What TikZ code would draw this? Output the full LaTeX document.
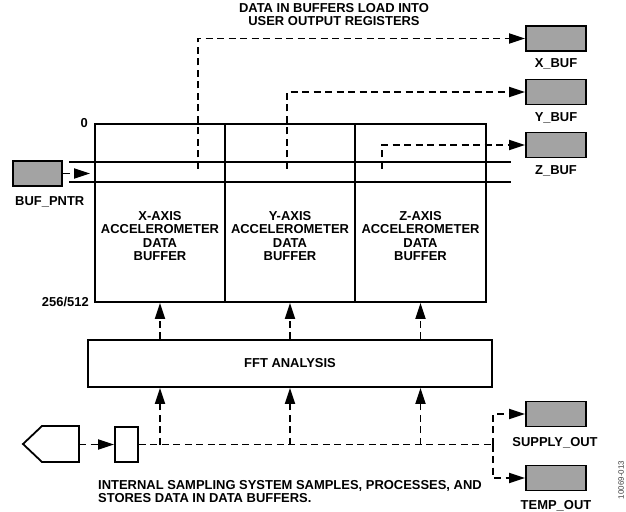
\documentclass[tikz,border=0pt]{standalone}
\usepackage{fontspec}
\setmainfont{Liberation Sans}
\usetikzlibrary{arrows.meta,calc}
\definecolor{regfill}{RGB}{163,163,163}
\begin{document}
\begin{tikzpicture}[x=1bp,y=-1bp,
  lbl/.style={font=\bfseries\fontsize{13}{13.3}\selectfont, inner sep=0pt, align=center},
  reg/.style={draw, line width=1.8bp, fill=regfill, minimum width=60bp, minimum height=25bp, inner sep=0pt},
  buf/.style={draw, line width=1.8bp, minimum height=178bp, inner sep=0pt},
  dsh/.style={line width=1.8bp, dash pattern=on 7bp off 4.5bp},
  tip/.style={-{Triangle[length=16bp,width=10bp]}},
  rail/.style={line width=1.8bp}
]
\useasboundingbox (0,0) rectangle (626,512);

% title
\node[lbl,anchor=north] (title) at (334,3.5) {DATA IN BUFFERS LOAD INTO\\USER OUTPUT REGISTERS};

% output registers
\node[reg] (xbuf) at (556,38.5) {};
\node[lbl,anchor=base] (xbufl) at (556,67.7) {X\_BUF};
\node[reg] (ybuf) at (556,92) {};
\node[lbl,anchor=base] (ybufl) at (556,121.7) {Y\_BUF};
\node[reg] (zbuf) at (556,145) {};
\node[lbl,anchor=base] (zbufl) at (556,174.7) {Z\_BUF};

% buffers
\node[buf, minimum width=130bp] (bx) at (160,213) {};
\node[buf, minimum width=130bp] (by) at (290,213) {};
\node[buf, minimum width=131bp] (bz) at (420.5,213) {};
\node[lbl,anchor=north] (bxt) at (160,211.3) {X-AXIS\\ACCELEROMETER\\DATA\\BUFFER};
\node[lbl,anchor=north] (byt) at (290,211.3) {Y-AXIS\\ACCELEROMETER\\DATA\\BUFFER};
\node[lbl,anchor=north] (bzt) at (420.5,211.3) {Z-AXIS\\ACCELEROMETER\\DATA\\BUFFER};
\node[lbl,anchor=east] (zero) at (88,123) {0};
\node[lbl,anchor=base east] (len) at (89,306.7) {256/512};

% rails
\draw[rail] (69,162) -- (511,162);
\draw[rail] (69,182) -- (511,182);

% buffer pointer
\node[reg, minimum width=49bp] (bp) at (37.5,173.5) {};
\node[lbl,anchor=base west] (bpl) at (15,205.7) {BUF\_PNTR};
\coordinate (bptip) at (90,173.5);
\draw[dsh,tip] (bp.east) -- (bptip);

% buffer to registers
\coordinate (sx) at (198,169);
\coordinate (sy) at (287,169);
\coordinate (sz) at (382,169);
\draw[dsh,tip] (sx) |- (xbuf.west);
\draw[dsh,tip] (sy) |- (ybuf.west);
\draw[dsh,tip] (sz) |- (zbuf.west);

% FFT
\node[draw, line width=1.8bp, minimum width=404bp, minimum height=47bp, inner sep=0pt,
      font=\bfseries\fontsize{13}{13}\selectfont] (fft) at (290,363.5) {FFT ANALYSIS};
\draw[dsh,tip] (fft.north -| bx.south) -- (bx.south);
\draw[dsh,tip] (fft.north -| by.south) -- (by.south);
\draw[dsh,tip] (fft.north -| bz.south) -- (bz.south);

% sensor and sampling
\draw[line width=1.8bp] (23,444) -- (42,426) -- (79,426) -- (79,462) -- (42,462) -- cycle;
\coordinate (sens) at (79,444.5);
\node[draw, line width=1.8bp, minimum width=23bp, minimum height=35bp, inner sep=0pt] (sm) at (126.5,444.5) {};
\draw[dsh,tip] (sens) -- (sm.west);
\coordinate (j) at (493,444.5);
\draw[dsh] (sm.east) -- (j);
\draw[dsh,tip] (j -| bx.south) -- (fft.south -| bx.south);
\draw[dsh,tip] (j -| by.south) -- (fft.south -| by.south);
\draw[dsh,tip] (j -| bz.south) -- (fft.south -| bz.south);

% supply / temp
\node[reg] (sup) at (556,414) {};
\node[lbl,anchor=base] (supl) at (555,446.7) {SUPPLY\_OUT};
\node[reg] (tmp) at (556,478) {};
\node[lbl,anchor=base] (tmpl) at (556,509.7) {TEMP\_OUT};
\draw[dsh,tip] (j) |- (sup.west);
\draw[dsh,tip] (j) |- (tmp.west);

\node[lbl,anchor=north west,align=left] (note) at (98,480.3) {INTERNAL SAMPLING SYSTEM SAMPLES, PROCESSES, AND\\STORES DATA IN DATA BUFFERS.};

\node[rotate=90, font=\fontsize{8}{8}\selectfont, text=black!75, inner sep=0pt] (fig) at (621,480) {10069-013};
\end{tikzpicture}
\end{document}
